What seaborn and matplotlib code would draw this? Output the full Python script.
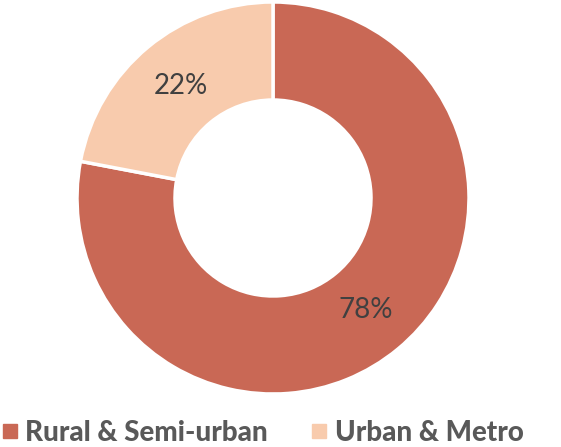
import matplotlib
matplotlib.use("Agg")
import matplotlib.pyplot as plt
import seaborn as sns
from matplotlib.lines import Line2D

# Data
categories = ["Rural & Semi-urban", "Urban & Metro"]
shares = [78, 22]
colors = ["#C96855", "#F8CBAD"]

sns.set_theme(style="white")
plt.rcParams["font.family"] = ["Lato", "DejaVu Sans"]

W, H = 561, 447
fig = plt.figure(figsize=(W / 100, H / 100), dpi=100)
cx, cy, r = 273, 447 - 198, 196
ax = fig.add_axes([(cx - r) / W, (cy - r) / H, 2 * r / W, 2 * r / H])

wedges, texts, autotexts = ax.pie(
    shares, colors=colors, startangle=90, counterclock=False,
    autopct="%d%%", pctdistance=0.74, radius=1,
    wedgeprops=dict(width=0.5, edgecolor="white", linewidth=2.5),
    textprops=dict(color="#404040", fontsize=20),
)
ax.set_xlim(-1, 1)
ax.set_ylim(-1, 1)
ax.set_aspect("equal")
ax.axis("off")

handles = [Line2D([0], [0], marker="s", linestyle="", markersize=9.5,
                  markerfacecolor=c, markeredgecolor=c) for c in colors]
leg = fig.legend(handles, categories, loc="center left", bbox_to_anchor=(3 / W, 1 - 433 / H),
                 ncol=2, frameon=False, handlelength=0.5, handletextpad=0.3,
                 columnspacing=1.6, borderpad=0, borderaxespad=0,
                 prop=dict(size=20, weight=900))
for t in leg.get_texts():
    t.set_color("#595959")

fig.savefig("out.png", dpi=100)
